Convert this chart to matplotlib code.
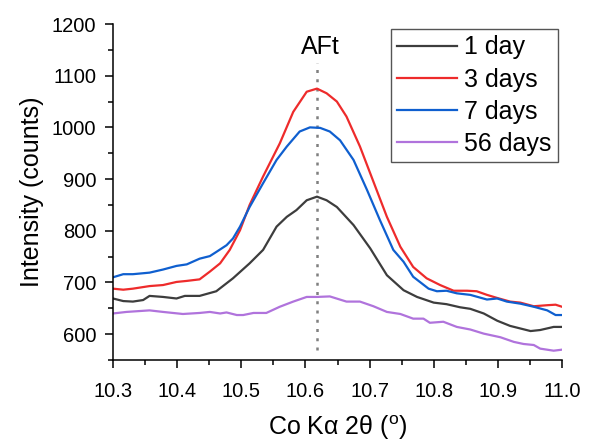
import matplotlib
matplotlib.use("Agg")
import matplotlib.pyplot as plt
from matplotlib.ticker import MultipleLocator

plt.rcParams['font.family'] = ['Liberation Sans', 'DejaVu Sans']

# ---- data ----
x_1day = [10.300, 10.316, 10.331, 10.347, 10.357, 10.378, 10.399, 10.412, 10.435, 10.461,
          10.487, 10.513, 10.534, 10.555, 10.571, 10.586, 10.602, 10.618, 10.633, 10.649,
          10.675, 10.701, 10.727, 10.753, 10.774, 10.800, 10.820, 10.841, 10.857, 10.878,
          10.899, 10.919, 10.935, 10.951, 10.966, 10.987, 11.000]
y_1day = [669, 664, 663, 666, 674, 672, 669, 674, 674, 683,
          708, 737, 763, 808, 827, 840, 859, 866, 859, 846,
          811, 766, 714, 685, 672, 661, 658, 652, 649, 640,
          626, 616, 611, 606, 608, 614, 614]

x_3days = [10.300, 10.316, 10.331, 10.357, 10.378, 10.399, 10.415, 10.435, 10.451, 10.467,
           10.482, 10.498, 10.513, 10.534, 10.560, 10.581, 10.602, 10.618, 10.633, 10.649,
           10.664, 10.685, 10.706, 10.727, 10.748, 10.768, 10.789, 10.810, 10.831, 10.852,
           10.867, 10.883, 10.899, 10.919, 10.935, 10.956, 10.977, 10.990, 11.000]
y_3days = [688, 686, 688, 693, 695, 701, 703, 706, 721, 737,
           763, 801, 850, 905, 969, 1030, 1069, 1075, 1066, 1050,
           1021, 963, 895, 827, 769, 730, 708, 695, 684, 684,
           683, 676, 670, 663, 661, 654, 656, 657, 653]

x_7days = [10.300, 10.316, 10.331, 10.357, 10.378, 10.399, 10.415, 10.435, 10.451, 10.461,
           10.477, 10.487, 10.498, 10.513, 10.534, 10.555, 10.571, 10.591, 10.607, 10.623,
           10.638, 10.654, 10.675, 10.696, 10.716, 10.737, 10.753, 10.768, 10.792, 10.805,
           10.820, 10.836, 10.857, 10.883, 10.899, 10.914, 10.935, 10.956, 10.977, 10.990,
           11.000]
y_7days = [710, 716, 716, 719, 725, 732, 735, 746, 751, 759,
           772, 785, 808, 846, 892, 937, 963, 992, 1000, 999,
           992, 975, 937, 879, 821, 763, 740, 711, 688, 683,
           684, 679, 676, 667, 669, 663, 659, 653, 646, 637,
           637]

x_56days = [10.300, 10.321, 10.357, 10.378, 10.409, 10.435, 10.451, 10.467, 10.477, 10.493,
            10.503, 10.519, 10.539, 10.560, 10.581, 10.602, 10.618, 10.638, 10.664, 10.685,
            10.706, 10.727, 10.748, 10.768, 10.784, 10.794, 10.815, 10.836, 10.857, 10.878,
            10.904, 10.925, 10.940, 10.956, 10.966, 10.987, 11.000]
y_56days = [640, 643, 646, 643, 639, 641, 643, 640, 642, 637,
            637, 641, 641, 653, 663, 672, 672, 673, 663, 663,
            654, 643, 639, 630, 630, 622, 624, 614, 609, 601,
            594, 585, 581, 579, 572, 568, 570]

series_labels = ['1 day', '3 days', '7 days', '56 days']
series_colors = ['#3d3d3d', '#ee2b2b', '#0f5fcf', '#b073dc']

peak_label = 'AFt'
peak_pos = 10.618

x_ticks = [10.3, 10.4, 10.5, 10.6, 10.7, 10.8, 10.9, 11.0]
y_ticks = [600, 700, 800, 900, 1000, 1100, 1200]

# ---- figure ----
W, H = 595, 441
fig = plt.figure(figsize=(W / 100, H / 100), dpi=100)
ax_l, ax_r, ax_t, ax_b = 113, 562, 24, 360
ax = fig.add_axes([ax_l / W, 1 - ax_b / H, (ax_r - ax_l) / W, (ax_b - ax_t) / H])

xs = [x_1day, x_3days, x_7days, x_56days]
ys = [y_1day, y_3days, y_7days, y_56days]
for xv, yv, lab, col in zip(xs, ys, series_labels, series_colors):
    ax.plot(xv, yv, color=col, lw=1.6, label=lab)

ax.plot([peak_pos, peak_pos], [569, 1124], color='#808080', lw=1.8,
        linestyle=(0, (1.2, 2.5)), zorder=1)
ax.text(peak_pos + 0.005, 1156, peak_label, fontsize=18, ha='center', va='center')

ax.set_xlim(10.3, 11.0)
ax.set_ylim(550, 1200)
ax.set_xticks(x_ticks)
ax.set_xticklabels([f'{v:.1f}' for v in x_ticks])
ax.set_yticks(y_ticks)
ax.xaxis.set_minor_locator(MultipleLocator(0.05))
ax.yaxis.set_minor_locator(MultipleLocator(50))

for s in ['top', 'right']:
    ax.spines[s].set_visible(False)
for s in ['left', 'bottom']:
    ax.spines[s].set_linewidth(1.1)

ax.tick_params(which='major', direction='out', length=6, width=1.1, labelsize=14.5)
ax.tick_params(axis='x', which='major', pad=9.5)
ax.tick_params(axis='y', which='major', pad=6)
ax.tick_params(which='minor', direction='out', length=3.5, width=1.1)

ax.set_xlabel('Co Kα 2θ ($\\mathregular{^o}$)', fontsize=18)
ax.xaxis.label.set_va('baseline')
baseline_px = 435
ax.xaxis.set_label_coords(0.5, ((H - baseline_px) - (H - ax_b)) / (ax_b - ax_t))
ax.set_ylabel('Intensity (counts)', fontsize=18, labelpad=6)

leg = ax.legend(loc='upper right', bbox_to_anchor=(558 / W, 1 - 29 / H),
                bbox_transform=fig.transFigure, fontsize=18, frameon=True,
                fancybox=False, framealpha=1, edgecolor='#555555',
                handlelength=2.4, handletextpad=0.3, labelspacing=0.33,
                borderpad=0.25, borderaxespad=0)
leg.get_frame().set_linewidth(1.0)

fig.savefig('out.png', dpi=100)
